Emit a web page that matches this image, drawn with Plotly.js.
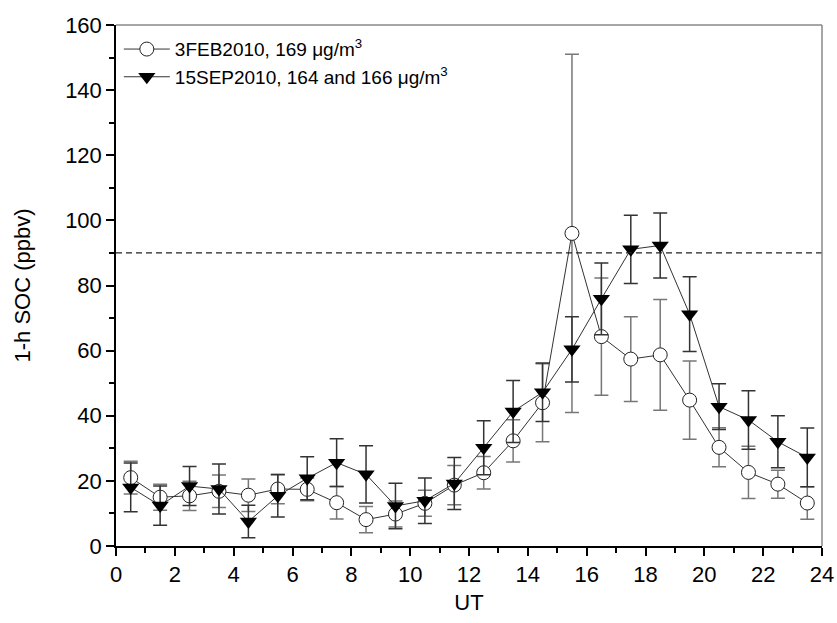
<!DOCTYPE html>
<html>
<head>
<meta charset="utf-8">
<script src="https://cdn.plot.ly/plotly-3.0.1.min.js"></script>
<style>html,body{margin:0;padding:0;background:#fff;}</style>
</head>
<body>
<div id="chart" style="width:837px;height:623px;"></div>
<script>
// Hours (UT)
var hours = [0.5,1.5,2.5,3.5,4.5,5.5,6.5,7.5,8.5,9.5,10.5,11.5,12.5,13.5,14.5,15.5,16.5,17.5,18.5,19.5,20.5,21.5,22.5,23.5];
// 3FEB2010 series
var febValues = [21,15,15.4,16.8,15.6,17.5,17.4,13.3,8.1,9.8,13.1,18.7,22.5,32.3,44,96,64.3,57.4,58.7,44.8,30.3,22.6,19,13.2];
var febErrors = [5,4,4.5,5,5,4.5,3.5,5,4,4,4,6,5,6.5,12,55,18,13,17,12,6,8,4.3,5];
// 15SEP2010 series
var sepValues = [18,12.4,18.4,17.5,7.5,15.4,20.8,25.6,22,12.3,13.9,19.2,30.2,41.3,47.2,60.4,75.9,91.1,92.3,71.2,42.8,38.7,32,27.2];
var sepErrors = [7.5,6,6,7.7,5,6.5,6.6,7.3,8.8,7,7,8,8.3,9.5,9,10,11,10.5,10,11.5,7,9,8,9];
var threshold = 90;

var traceFeb = {
  x: hours, y: febValues, type: 'scatter', mode: 'lines+markers',
  name: '3FEB2010, 169 \u03bcg/m<sup>3</sup>',
  line: {color: '#333', width: 1},
  marker: {symbol: 'circle', size: 14, color: '#fff', line: {color: '#222', width: 1}},
  error_y: {type: 'data', array: febErrors, visible: true, color: '#777', thickness: 1.5, width: 7}
};
var traceSep = {
  x: hours, y: sepValues, type: 'scatter', mode: 'lines+markers',
  name: '15SEP2010, 164 and 166 \u03bcg/m<sup>3</sup>',
  line: {color: '#333', width: 1},
  marker: {symbol: 'triangle-down', size: 15, color: '#000', line: {color: '#000', width: 0}},
  error_y: {type: 'data', array: sepErrors, visible: true, color: '#333', thickness: 1.5, width: 7}
};

var layout = {
  width: 837, height: 623,
  margin: {l: 116, r: 15, t: 25, b: 77},
  paper_bgcolor: '#fff', plot_bgcolor: '#fff',
  font: {family: 'Liberation Sans, Arial, sans-serif', color: '#000'},
  showlegend: true,
  legend: {x: 0.004, y: 0.99, xanchor: 'left', yanchor: 'top', bgcolor: 'rgba(0,0,0,0)',
           font: {size: 19}, tracegroupgap: 0, itemwidth: 46},
  xaxis: {
    range: [0, 24], dtick: 2, tick0: 0, showgrid: false, zeroline: false,
    ticks: 'outside', ticklen: 8, tickwidth: 1.5, tickcolor: '#000',
    showline: true, linecolor: '#000', linewidth: 1.5,
    tickfont: {size: 22},
    minor: {dtick: 1, ticks: 'outside', ticklen: 5, tickwidth: 1.5, tickcolor: '#000', showgrid: false},
    title: {text: 'UT', font: {size: 22}, standoff: 8}
  },
  yaxis: {
    range: [0, 160], dtick: 20, tick0: 0, showgrid: false, zeroline: false,
    ticks: 'outside', ticklen: 8, tickwidth: 1.5, tickcolor: '#000',
    showline: true, linecolor: '#000', linewidth: 1.5,
    tickfont: {size: 22},
    minor: {dtick: 10, ticks: 'outside', ticklen: 5, tickwidth: 1.5, tickcolor: '#000', showgrid: false},
    title: {text: '1-h SOC (ppbv)', font: {size: 22}, standoff: 28}
  },
  shapes: [
    {type: 'line', xref: 'paper', yref: 'y', x0: 0, x1: 1, y0: threshold, y1: threshold,
     line: {color: '#222', width: 1.3, dash: '6px,4px'}},
    {type: 'line', xref: 'paper', yref: 'paper', x0: 0, x1: 1, y0: 1, y1: 1, line: {color: '#888', width: 1.5}},
    {type: 'line', xref: 'paper', yref: 'paper', x0: 1, x1: 1, y0: 0, y1: 1, line: {color: '#888', width: 1.5}}
  ]
};

Plotly.newPlot('chart', [traceFeb, traceSep], layout, {displayModeBar: false});
</script>
</body>
</html>
